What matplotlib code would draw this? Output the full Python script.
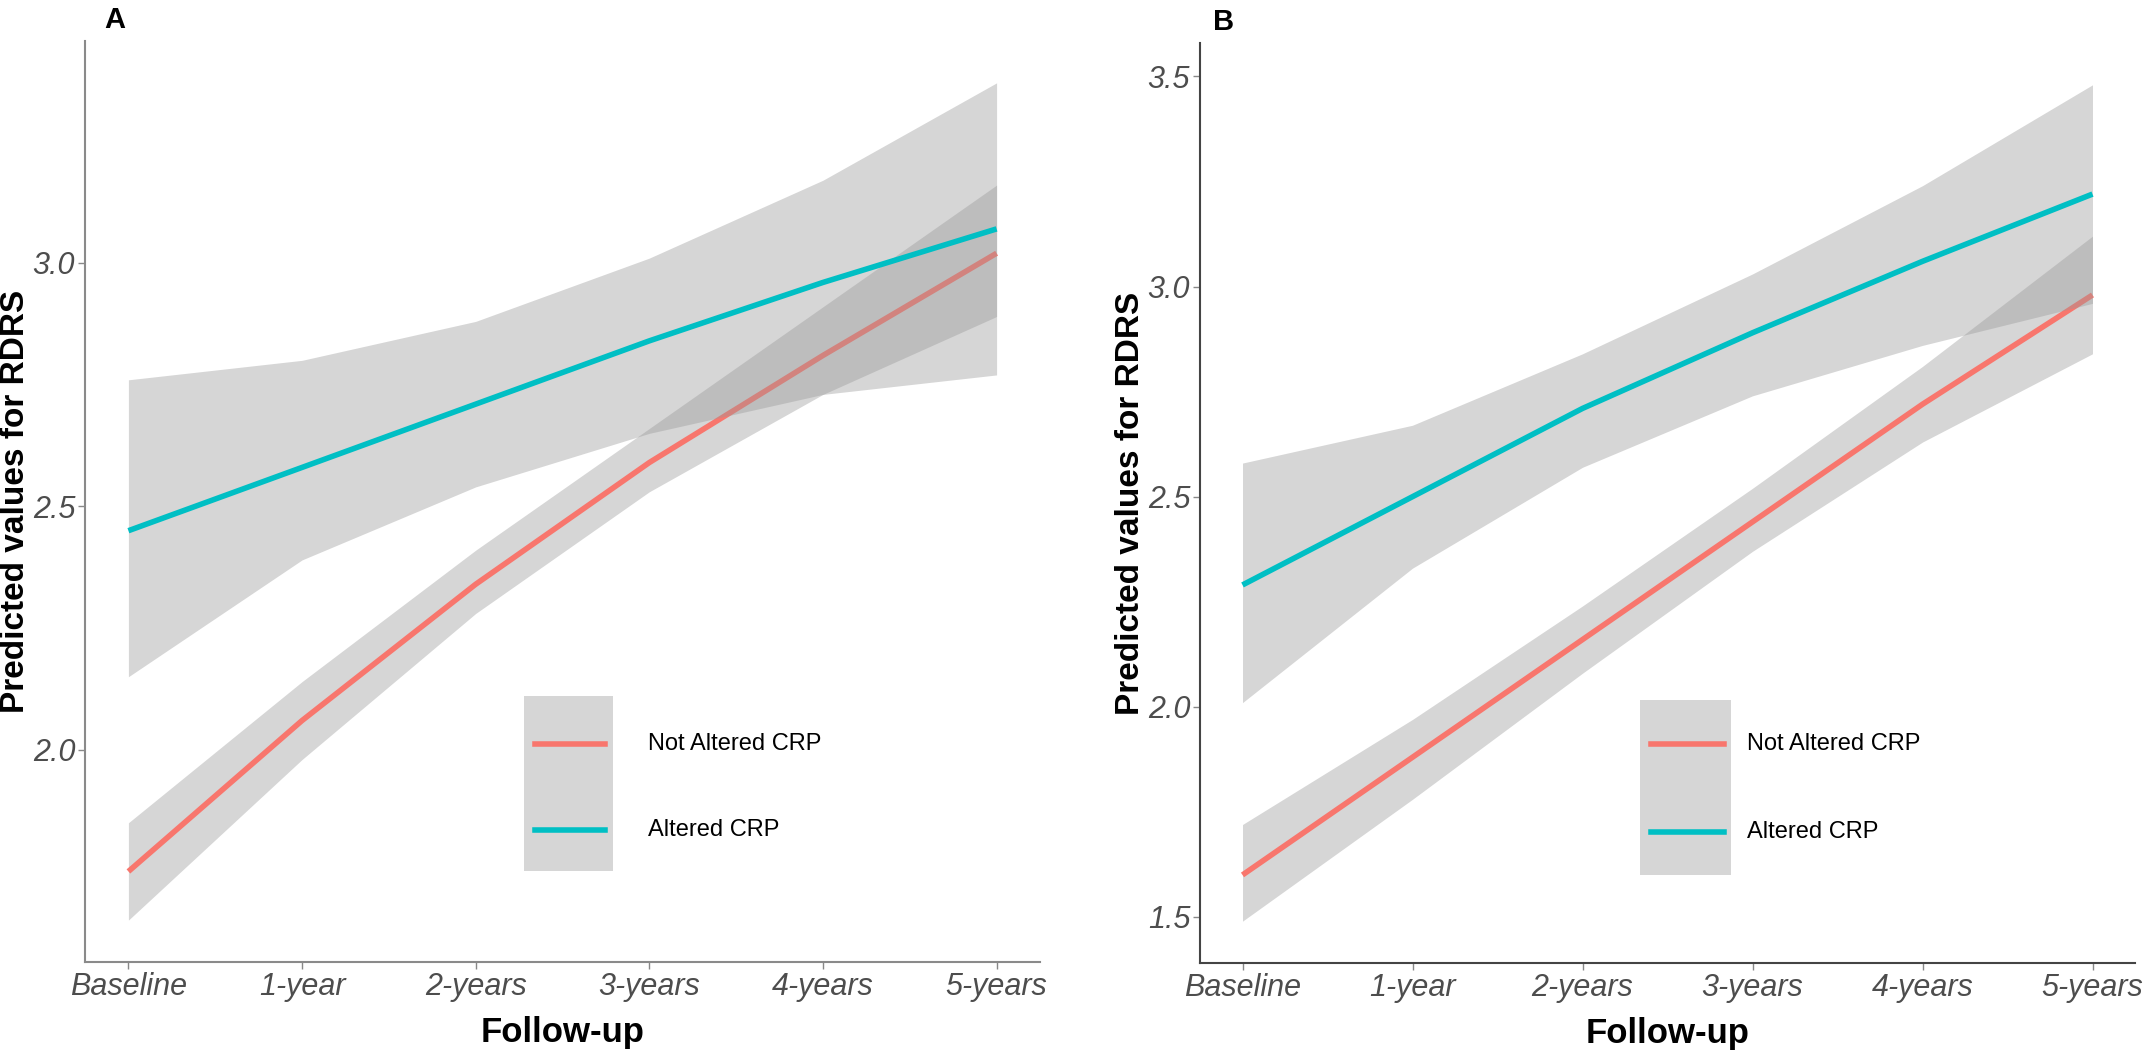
import matplotlib
matplotlib.use('Agg')
import matplotlib.pyplot as plt
from matplotlib.patches import Rectangle

plt.rcParams['font.family'] = ['Liberation Sans', 'DejaVu Sans']

# follow-up time points (years) and their labels
years = [0, 1, 2, 3, 4, 5]
year_labels = ['Baseline', '1-year', '2-years', '3-years', '4-years', '5-years']
group_labels = ['Not Altered CRP', 'Altered CRP']

# panel A: predicted values and confidence band
a_not_fit = [1.75, 2.06, 2.34, 2.59, 2.81, 3.02]
a_not_low = [1.65, 1.98, 2.28, 2.53, 2.73, 2.89]
a_not_high = [1.85, 2.14, 2.41, 2.66, 2.91, 3.16]
a_alt_fit = [2.45, 2.58, 2.71, 2.84, 2.96, 3.07]
a_alt_low = [2.15, 2.39, 2.54, 2.65, 2.73, 2.77]
a_alt_high = [2.76, 2.80, 2.88, 3.01, 3.17, 3.37]
a_yticks = [2.0, 2.5, 3.0]

# panel B
b_not_fit = [1.60, 1.88, 2.16, 2.44, 2.72, 2.98]
b_not_low = [1.49, 1.78, 2.08, 2.37, 2.63, 2.84]
b_not_high = [1.72, 1.97, 2.24, 2.52, 2.81, 3.12]
b_alt_fit = [2.29, 2.50, 2.71, 2.89, 3.06, 3.22]
b_alt_low = [2.01, 2.33, 2.57, 2.74, 2.86, 2.96]
b_alt_high = [2.58, 2.67, 2.84, 3.03, 3.24, 3.48]
b_yticks = [1.5, 2.0, 2.5, 3.0, 3.5]

RED = '#F8766D'
TEAL = '#00BFC4'


def draw_panel(ax, series, yticks, letter, spine_color, legend_box):
    colors = [RED, TEAL]
    lows, highs = [], []
    z = 1
    for (fit, low, high), color in zip(series, colors):
        ax.fill_between(years, low, high, color='#999999', alpha=0.4, lw=0, zorder=z)
        ax.plot(years, fit, color=color, lw=4, zorder=z + 1, solid_capstyle='butt')
        lows += low
        highs += high
        z += 2

    # ggplot-like 5% expansion
    ymin, ymax = min(lows), max(highs)
    pad = (ymax - ymin) * 0.05
    ax.set_ylim(ymin - pad, ymax + pad)
    ax.set_xlim(-0.25, 5.25)

    ax.set_xticks(years, year_labels, fontstyle='italic', fontsize=22, color='#4D4D4D')
    ax.set_yticks(yticks, ['%.1f' % t for t in yticks], fontstyle='italic',
                  fontsize=22, color='#4D4D4D')
    ax.tick_params(length=5, width=1, color='#888888', pad=2)

    for side in ['top', 'right']:
        ax.spines[side].set_visible(False)
    for side in ['left', 'bottom']:
        ax.spines[side].set_color(spine_color)
        ax.spines[side].set_linewidth(1.5)

    ax.set_xlabel('Follow-up', fontsize=25, fontweight='bold')
    ax.set_ylabel('Predicted values for RDRS', fontsize=24, fontweight='bold')
    ax.xaxis.set_label_coords(0.5, -0.059)
    ax.yaxis.set_label_coords(legend_box['ylab_x'], 0.5)

    ax.text(legend_box['letter_x'], 1.014, letter, transform=ax.transAxes,
            fontsize=21, fontweight='bold', va='baseline', ha='center')

    # legend drawn by hand to get the shared grey key
    x0, x1, y0, y1 = legend_box['rect']
    ax.add_patch(Rectangle((x0, y0), x1 - x0, y1 - y0, transform=ax.transAxes,
                           color='#D6D6D6', lw=0, zorder=5))
    for label, color, ly in zip(group_labels, colors, legend_box['rows']):
        ax.plot([x0 + 0.011, x1 - 0.008], [ly, ly], transform=ax.transAxes,
                color=color, lw=4, zorder=6)
        ax.text(legend_box['text_x'], ly, label, transform=ax.transAxes,
                fontsize=17, va='center', ha='left', zorder=6)


def main():
    fig = plt.figure(figsize=(21.5, 10.56), dpi=100)
    W, H = 2150, 1056
    ax_a = fig.add_axes([85 / W, 1 - 962 / H, 955 / W, 921 / H])
    ax_b = fig.add_axes([1200 / W, 1 - 963 / H, 935 / W, 920 / H])

    draw_panel(ax_a,
               [(a_not_fit, a_not_low, a_not_high), (a_alt_fit, a_alt_low, a_alt_high)],
               a_yticks, 'A', '#8A8A8A',
               {'rect': (0.460, 0.553, 0.099, 0.289), 'rows': (0.237, 0.143),
                'text_x': 0.590, 'ylab_x': -0.057, 'letter_x': 0.031})
    draw_panel(ax_b,
               [(b_not_fit, b_not_low, b_not_high), (b_alt_fit, b_alt_low, b_alt_high)],
               b_yticks, 'B', '#444444',
               {'rect': (0.471, 0.568, 0.096, 0.286), 'rows': (0.238, 0.142),
                'text_x': 0.585, 'ylab_x': -0.058, 'letter_x': 0.025})

    fig.savefig('out.png', dpi=100)


main()
